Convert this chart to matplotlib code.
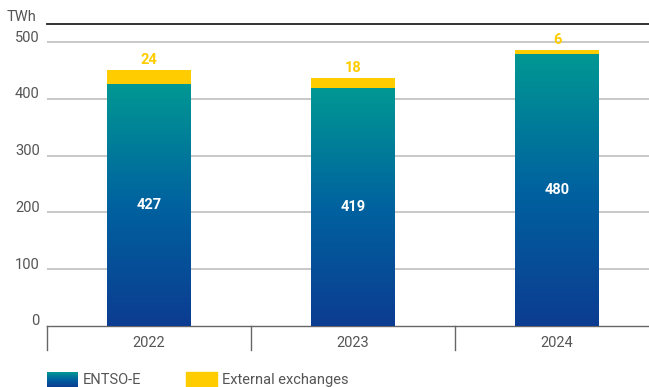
import matplotlib
matplotlib.use("Agg")
import matplotlib.pyplot as plt
import numpy as np
from matplotlib.colors import LinearSegmentedColormap

plt.rcParams['font.family'] = ['Roboto', 'DejaVu Sans']

years = ['2022', '2023', '2024']
entsoe = [427, 419, 480]
external = [24, 18, 6]

teal = '#009893'
blue = '#0c3c91'
yellow = '#ffcc00'
grey_txt = '#555555'
grad = LinearSegmentedColormap.from_list('entsoe', [blue, '#00629f', teal])

W, H = 649, 387
fig = plt.figure(figsize=(W / 100, H / 100), dpi=100)
ax = fig.add_axes([47 / W, 1 - 326 / H, 602 / W, (326 - 24) / H])

x = np.arange(len(years))
bw = 0.41
ymax = 532

g = np.linspace(0, 1, 256).reshape(-1, 1)
for xi, e, ext in zip(x, entsoe, external):
    ax.imshow(g, cmap=grad, origin='lower', aspect='auto',
              extent=[xi - bw / 2, xi + bw / 2, 0, e], zorder=3)
    ax.bar(xi, ext, bw, bottom=e, color=yellow, zorder=3)
    ax.text(xi, e + ext + 5, str(ext), ha='center', va='bottom',
            color=yellow, fontsize=10.5, fontweight='bold')
    ax.text(xi, e / 2, str(e), ha='center', va='center',
            color='white', fontsize=10.5, fontweight='bold', zorder=4)
ax.set_xlim(-0.5, 2.45)
ax.set_ylim(0, ymax)

for v in [100, 200, 300, 400, 500]:
    ax.axhline(v, color='#c8c8c8', lw=1.4, zorder=1)
for v in [0, 100, 200, 300, 400, 500]:
    ax.text(-0.012, v + 8, str(v), transform=ax.get_yaxis_transform(),
            ha='right', va='center', color=grey_txt, fontsize=10.5)
ax.text(-0.018, 1.0, 'TWh', transform=ax.transAxes, ha='right', va='bottom',
        color=grey_txt, fontsize=10.5)

for s in ['left', 'right']:
    ax.spines[s].set_visible(False)
ax.spines['top'].set_color('#222222')
ax.spines['top'].set_linewidth(1.3)
ax.spines['bottom'].set_color('#666666')
ax.spines['bottom'].set_linewidth(1)
ax.set_xticks([])
ax.set_yticks([])

for b in [-0.5, 0.5, 1.5]:
    ax.plot([b, b], [0, -42], color='#666666', lw=1, clip_on=False)
for xi, yr in zip(x, years):
    ax.text(xi, -30, yr, ha='center', va='center', color=grey_txt, fontsize=10.5)

# legend
lax = fig.add_axes([47 / W, 0, 31 / W, 15 / H])
lax.imshow(g, cmap=grad, origin='lower', aspect='auto')
lax.axis('off')
fig.patches.append(plt.Rectangle((186 / W, 0), 31 / W, 15 / H, color=yellow,
                                 transform=fig.transFigure, figure=fig))
fig.text(83 / W, 7 / H, 'ENTSO-E', ha='left', va='center', color=grey_txt, fontsize=10.5)
fig.text(222 / W, 7 / H, 'External exchanges', ha='left', va='center', color=grey_txt, fontsize=10.5)

fig.savefig('out.png', dpi=100)
